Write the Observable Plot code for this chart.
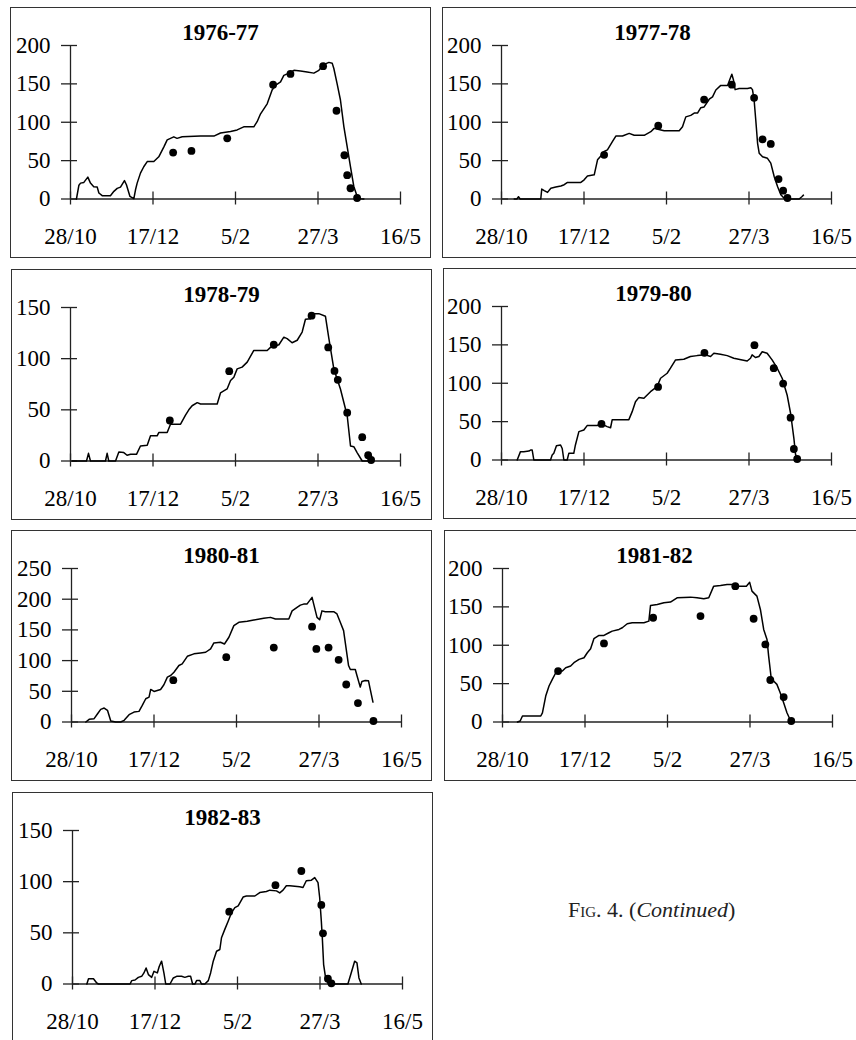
<!DOCTYPE html>
<html>
<head>
<meta charset="utf-8">
<script src="https://cdn.jsdelivr.net/npm/d3@7"></script>
<script src="https://cdn.jsdelivr.net/npm/@observablehq/plot@0.6"></script>
<style>
  body { margin: 0; background: #fff; }
  #page { position: relative; width: 856px; height: 1040px; overflow: hidden; background: #fff;
          font-family: "Liberation Serif", "Times New Roman", serif; color: #000; }
  .panel { position: absolute; width: 421px; height: 251px; }
  .panel svg { position: absolute; left: 0; top: 0; }
  .box { position: absolute; left: 0; top: 0; width: 100%; height: 100%; box-sizing: border-box;
         border: 1px solid #333; pointer-events: none; }
  .title { position: absolute; left: 0; width: 100%; top: 14px; text-align: center;
           font-weight: bold; font-size: 23px; line-height: 23px; }
  #caption { position: absolute; left: 568px; top: 899px; font-size: 22px; line-height: 22px; color: #222; }
  #caption .sc { font-variant: small-caps; }
</style>
</head>
<body>
<div id="page"></div>
<script>
// ---------------- data ----------------
const tickDays = [0, 50, 100, 150, 200];           // days since 28/10
const tickLabels = ["28/10", "17/12", "5/2", "27/3", "16/5"];
const seasons = ["1976-77", "1977-78", "1978-79", "1979-80", "1980-81", "1981-82", "1982-83"];
const yMaxes = [200, 200, 150, 200, 250, 200, 150];

// simulated series: [day, value]
const sim1976 = [[3.6,0],[5.1,18],[6.1,20.7],[8.1,21.6],[10.5,28.5],[12.1,20.7],[14.1,16],[16.2,15.5],[17.2,7.8],[19.2,4.3],[24.2,4.3],[26.3,10],[28.3,13.8],[30.3,15.5],[32.7,24],[33.9,18.6],[36,3.5],[38.4,0.4],[39.4,12],[40.4,20.7],[42.4,33.7],[44.4,42],[46.5,48.8],[50.5,48.8],[53.5,55],[56.6,68],[58.6,77],[62.6,81],[64.6,79],[67.7,81],[78.8,82],[86.9,82],[90.9,86],[97,88],[101,90],[105,94],[111.1,94],[113.1,100.7],[115.2,111],[119.2,124],[122.2,142],[124.2,148],[127.3,152.5],[129.3,161],[131.3,163],[135.4,167.6],[139.4,166.8],[143.4,165.5],[147.5,164],[150.5,167.6],[153.5,175],[156.6,178],[158.6,177],[159.6,170],[161.6,150],[163.6,129],[165.7,94],[167.7,68],[169.7,42],[171.7,16.4],[173.7,3.5],[175.8,0.4],[177.8,0]];
const obs1976 = [[62.2,60.5],[73.3,62.6],[95,79],[122.8,149],[133.3,163],[153.1,173],[161.2,115],[166,57],[167.7,31],[169.7,14],[173.7,1.3]];

const sim1977 = [[7.7,0],[9.3,0],[10.3,3],[11.3,0],[23.8,0],[24.4,13],[25.9,11],[27.9,8.6],[29.9,14],[32.9,15.5],[36,17],[38,18.6],[40,21.6],[48.1,21.6],[50.1,25],[52.1,30],[56.2,31.5],[58.2,51],[60.2,56],[62.2,62],[64.2,64],[67.3,75],[69.3,82],[73.3,82],[77.4,85.5],[80.4,83],[86.5,83],[90.5,87.7],[92.5,92],[96.6,90],[98.6,89],[107.7,89],[109.7,94],[111.7,107],[114.7,109],[116.8,112],[118.8,112],[120.8,119],[122.8,120],[125.9,130],[127.9,133],[129.9,142],[132.9,148],[137,148],[138.6,157],[139.6,162.5],[140.6,155],[141.6,142.5],[144,144],[149.1,144],[151.1,145],[152.1,142.5],[153.1,129],[154.1,103],[155.2,72.6],[156.2,59.6],[158.2,55],[161.2,53],[163.2,46.7],[165.3,29],[167.3,16.4],[169.3,5.6],[171.3,0.9],[173.3,0],[180.4,0],[182,3],[183,5]];
const obs1977 = [[62.2,57.5],[95,95.5],[122.8,129.6],[139.6,149],[153.1,131.8],[158.2,77.8],[163.2,71.7],[167.9,25.9],[170.7,10.8],[173.3,1.3]];

const sim1978 = [[1,0],[4,0],[9.7,0],[10.9,7.5],[12.1,0],[21.2,0],[22.2,7.5],[23.2,0],[27.3,0],[29.3,8.8],[32.3,8.2],[34.3,5.6],[36.4,6.5],[40,6.5],[42.4,14.7],[46.5,15.4],[48.5,24.6],[52.5,24.6],[53.5,27.8],[58.6,27.8],[60.6,36],[66.7,36],[69.7,44.9],[71.7,50],[73.7,54],[76.8,57],[78.8,55.7],[88.9,55.7],[90.9,66.5],[94.9,70.4],[97,78.6],[99,81.9],[101,90],[104,91.7],[107.1,96.6],[111.1,108],[119.2,108],[121.2,111],[126.3,113.6],[129.3,121],[131.3,119.6],[134.3,115.6],[137.4,118],[140.4,126],[142.4,138.5],[145.5,139],[147.5,144],[150.5,144],[154.5,141.5],[156.6,119.6],[159.6,90],[163.6,70.4],[167.7,44.2],[169.7,14.7],[171.7,14],[173.7,8.2],[176.8,0],[181.8,0]];
const obs1978 = [[60.2,39.6],[96.2,87.8],[123.2,113.6],[146.1,142],[156.2,111],[160,88],[162,79.3],[167.7,47.2],[176.8,23.3],[180.4,5.6],[182.2,1]];

const sim1979 = [[9.5,0],[11.5,10.9],[13.5,10.9],[16.6,11.7],[17.6,13],[18.6,13],[19.6,0],[29.7,0],[30.7,6.5],[31.7,8.7],[33.3,18.7],[35.8,19.6],[36.8,15],[37.8,0],[39.8,0],[40.8,8.7],[43.8,8.7],[44.8,19.6],[46.9,37],[49.9,39],[51.9,44.8],[58,44.8],[60,47.8],[64,43.5],[66.1,42],[67.1,52.6],[77.2,52.6],[79.2,63],[81.2,76],[83.2,81.3],[86.3,80.4],[88.3,84.8],[90.3,89],[94.3,95.6],[96.4,106.5],[100.4,113],[102.4,119.6],[105.5,130.4],[110.5,131.3],[114.5,134.8],[118.6,136],[123.6,137],[126.7,134.8],[128.7,139],[132.7,137.8],[136.8,136],[140.8,132.6],[145.9,130.4],[148.9,129],[150.9,132.6],[151.9,137],[153.9,133.5],[156,134.8],[158,141],[161,139],[164,130.4],[167.1,119.6],[170.1,106.5],[173.1,84.8],[175.2,60.9],[177.2,28.3],[178.2,7.4],[179.2,0]];
const obs1979 = [[60.6,47],[94.9,95.2],[123,139.6],[153.3,149.6],[165,119.6],[170.7,99.6],[175.2,55.2],[177.2,14.3],[179.2,1.3]];

const sim1980 = [[8.7,0],[10.7,4.3],[13.7,5.4],[15.7,13],[17.7,20.6],[19.8,22.7],[21.8,19],[23.8,1.6],[26.8,0],[29.8,0],[31.9,2.7],[34.9,11.9],[37.9,16.2],[40.9,17.3],[42.9,27],[45,37.9],[47,40.6],[48,53],[50,49.8],[54,53],[56,60.6],[58.1,73],[60.1,75.7],[62.1,81],[65.1,92],[67.1,94.7],[70.2,107],[74.2,111],[78.2,112.5],[81.3,113.6],[84.3,119],[86.3,128.8],[90.3,129.8],[92.7,127],[95.4,138],[98.4,157],[101.4,162.3],[106.5,164],[110.5,166],[116.5,168.8],[120.6,170.4],[123.6,167.7],[131.7,167.7],[133.7,181],[136.7,186.6],[138.7,190.4],[140.7,192],[142.7,192],[145.8,203],[146.8,192],[148.8,170.4],[150.4,166.6],[151.8,181],[153.8,179.6],[158.9,179.6],[160.9,176],[162.9,162.3],[164.9,148.8],[167.9,92],[169,85.5],[172,85.5],[173,75.7],[175,56.8],[176,66],[178,67.6],[180,67],[181,54],[182.7,32.5]];
const obs1980 = [[61.7,68.2],[93.8,105.5],[122.6,121.2],[145.8,155.3],[148.4,119],[155.8,121.2],[161.9,101.2],[166.5,61.1],[173.6,30.8],[183,1.6]];

const sim1981 = [[9.1,0],[10.7,1.3],[12.1,7.8],[23.2,7.8],[24.2,12],[26.2,33.8],[28.2,46.9],[30.2,55.5],[32.3,64.2],[34.3,66.4],[36.3,66.4],[38.3,70.7],[41.3,72.9],[43.3,77.2],[46.4,81.6],[49.4,83.7],[51.4,90.2],[53.4,95.4],[55.4,108.5],[58.5,112.8],[61.5,112.8],[64.5,116.3],[66.5,118.4],[70.6,120.6],[72.6,122.8],[75.6,128],[78.6,129.3],[85.7,129.3],[88.7,131.4],[89.7,151.8],[93.8,153],[97.8,155.3],[101.8,156.2],[105.8,161.8],[113.9,162.7],[117.9,161.8],[122,160.5],[125,161.8],[128,177],[132.1,177.9],[136.1,179],[139.1,179],[141.1,177],[147.8,177],[149.8,182],[151.2,170.5],[154.2,164],[156.3,146.6],[158.3,120.6],[160.3,107.6],[161.3,85.9],[162.7,59.9],[164.3,53.4],[166.3,49],[168.3,38.2],[170.4,25.2],[172.4,12],[174.4,2.6],[176.4,0]];
const obs1981 = [[33.7,66.4],[61.5,102.4],[91.3,135.8],[120,138],[141.1,177],[152.2,134.5],[159.3,101.1],[162.3,54.7],[170.4,32.5],[175,1.3]];

const sim1982 = [[8.7,0],[9.7,5.2],[12.7,5.2],[14.7,1],[15.7,0],[34.9,0],[35.9,3.3],[37.9,3.9],[39.9,6.5],[41.9,7.5],[43.3,10.8],[44.6,15.7],[46,9.2],[48,6.5],[49.4,12.4],[51.4,10.8],[52.6,17.4],[54,22.3],[55.4,10.8],[56.5,0],[59.1,0],[61.1,5.9],[63.1,7.5],[66.1,7.5],[68.1,6.5],[70.2,7.5],[71.6,7.5],[72.8,0],[74.2,0],[75.2,3.3],[77.2,3.3],[78.2,0],[80.2,0],[82.3,3.3],[83.7,10.8],[85.3,22.3],[87.3,32],[89.3,33.7],[90.3,45.2],[92.3,53.4],[94.4,61.6],[96.4,69.8],[98.4,74.7],[100.4,76.3],[103.4,85],[105.4,86],[110.5,86],[113.5,89.4],[117.5,90.4],[119.6,91.7],[123.6,91],[125.6,89],[127.6,91.7],[129.6,96],[131.7,96],[137.7,95],[139.7,94.3],[141.7,100.9],[144.8,101.5],[146.8,104],[148.8,99],[149.8,84.5],[150.8,61.6],[151.4,45.2],[152.2,19],[153.4,5.9],[154.8,1],[155.8,0],[166.9,0],[168.9,10.8],[171,22.3],[172.4,20.6],[173.6,5.9],[175,0]];
const obs1982 = [[95,70.7],[123,96.6],[138.7,110.4],[150.8,77.3],[151.8,49.5],[154.8,5.2],[156.9,0.7]];

const simSeries = [sim1976, sim1977, sim1978, sim1979, sim1980, sim1981, sim1982];
const obsSeries = [obs1976, obs1977, obs1978, obs1979, obs1980, obs1981, obs1982];

// ---------------- layout ----------------
const layout = [
  {x: 10,  y: 7,   ax: 60},
  {x: 442, y: 7,   ax: 59},
  {x: 11,  y: 269, ax: 59},
  {x: 443, y: 268, ax: 58},
  {x: 11,  y: 530, ax: 60},
  {x: 444, y: 530, ax: 58},
  {x: 12,  y: 792, ax: 60}
];
const W = 421, H = 251, plotW = 330, mTop = 38, zeroY = 191.5;
const page = document.getElementById("page");
const font = "'Liberation Serif', 'Times New Roman', serif";

seasons.forEach((season, k) => {
  const L = layout[k];
  const yMax = yMaxes[k];
  const yTicks = d3.range(0, yMax + 1, 50);
  const div = document.createElement("div");
  div.className = "panel";
  div.style.left = L.x + "px";
  div.style.top = L.y + "px";

  const chart = Plot.plot({
    width: W,
    height: H,
    marginLeft: L.ax,
    marginRight: W - L.ax - plotW,
    marginTop: mTop,
    marginBottom: H - zeroY,
    style: {background: "none", fontFamily: font, fontSize: "23px", color: "#000", overflow: "visible"},
    x: {domain: [0, 200], ticks: tickDays, tickSize: 0, tickPadding: 29,
        tickFormat: d => tickLabels[tickDays.indexOf(d)]},
    y: {domain: [0, yMax], ticks: yTicks, tickSize: 0, tickPadding: 20},
    marks: [
      Plot.ruleY([0], {x1: 0, x2: 200, stroke: "#222", strokeWidth: 1.3}),
      Plot.ruleX([0], {y1: 0, y2: yMax, stroke: "#222", strokeWidth: 1.3}),
      Plot.ruleX(tickDays, {x: d => d, y1: 0, y2: 0, insetTop: 6, insetBottom: 7, stroke: "#222", strokeWidth: 1.3}),
      Plot.ruleY(yTicks, {y: d => d, x1: 0, x2: 0, insetLeft: 7, insetRight: 9, stroke: "#222", strokeWidth: 1.3}),
      Plot.line(simSeries[k], {x: d => d[0], y: d => d[1], stroke: "#000", strokeWidth: 1.5}),
      Plot.dot(obsSeries[k], {x: d => d[0], y: d => d[1], r: 3.9, fill: "#000", stroke: "none"})
    ]
  });
  div.appendChild(chart);

  const title = document.createElement("div");
  title.className = "title";
  title.textContent = season;
  div.appendChild(title);

  const box = document.createElement("div");
  box.className = "box";
  div.appendChild(box);

  page.appendChild(div);
});

const cap = document.createElement("div");
cap.id = "caption";
cap.innerHTML = '<span class="sc">Fig.</span> 4. (<i>Continued</i>)';
page.appendChild(cap);
</script>
</body>
</html>
